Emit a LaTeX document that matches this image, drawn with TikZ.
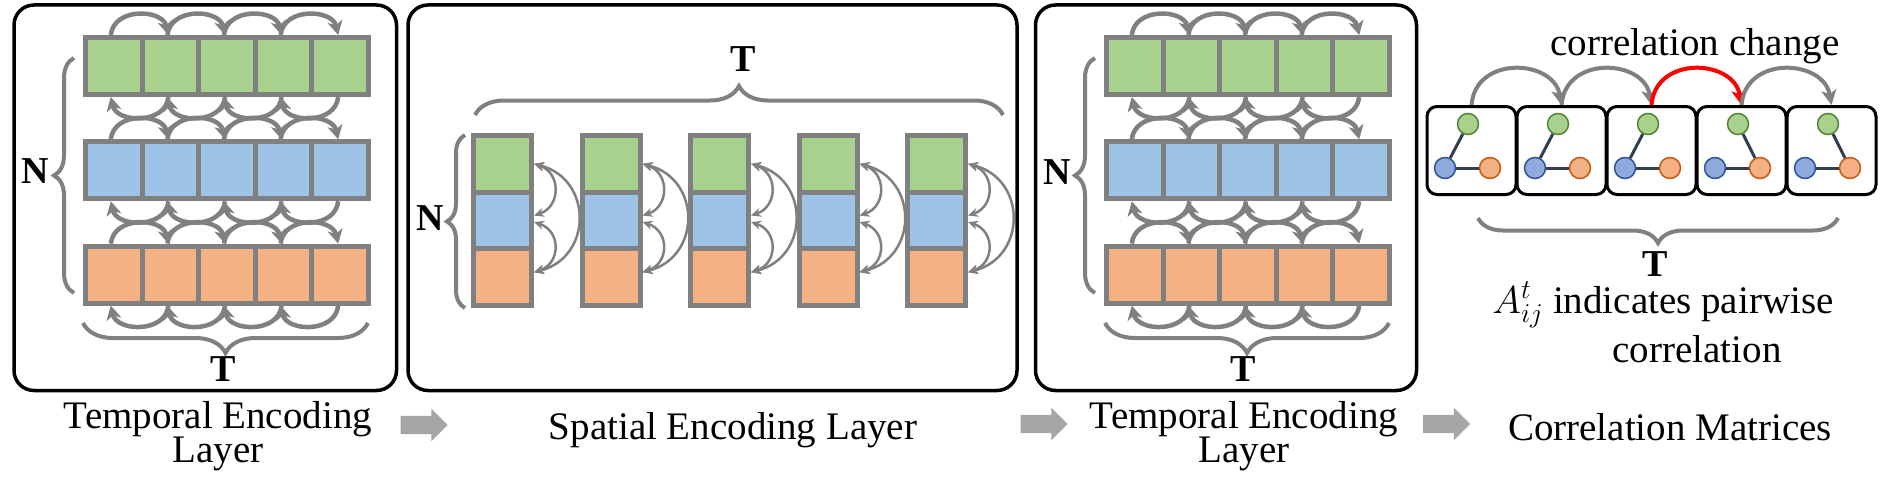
\RequirePackage{fix-cm}
\documentclass[tikz,border=0pt]{standalone}
\usepackage{fontspec}
\setmainfont{Liberation Serif}
\usetikzlibrary{arrows.meta,decorations.pathreplacing,shapes.arrows}
\definecolor{cgreen}{HTML}{A9D18E}
\definecolor{cblue}{HTML}{9DC3E6}
\definecolor{corange}{HTML}{F4B183}
\definecolor{cgray}{HTML}{808080}
\definecolor{bgray}{HTML}{A6A6A6}
\definecolor{nblue}{HTML}{8FAADC}
\definecolor{dgreen}{HTML}{548235}
\definecolor{dblue}{HTML}{2F5597}
\definecolor{dorange}{HTML}{C55A11}
\definecolor{edgec}{HTML}{333F50}
\definecolor{cred}{HTML}{FF0000}
\newcommand\tightlines{\lineskiplimit=-50pt\relax}
\begin{document}
\begin{tikzpicture}[x=1pt,y=-1pt,
 panel/.style={draw=black, line width=3.5pt, rounded corners=20pt},
 cell/.style={draw=cgray, line width=5pt, minimum width=56.6pt, minimum height=57pt, inner sep=0pt},
 scell/.style={draw=cgray, line width=5pt, minimum width=58pt, minimum height=56.7pt, inner sep=0pt},
 tarrow/.style={color=cgray, line width=4.5pt, -{Stealth[length=14pt,width=15pt,inset=4pt]}},
 sarrow/.style={color=cgray, line width=2.5pt, {Stealth[length=10pt,width=9pt]}-{Stealth[length=10pt,width=9pt]}},
 brc/.style={draw=cgray, line width=4pt, decorate, decoration={brace, amplitude=#1pt}},
 lbl/.style={font=\fontsize{39pt}{34pt}\selectfont, inner sep=0pt, anchor=base},
 lbltwo/.style={font={\fontsize{39pt}{34pt}\selectfont\tightlines}, inner sep=0pt, align=center, anchor=north},
 bigb/.style={font=\fontsize{38pt}{38pt}\selectfont\bfseries, inner sep=0pt},
 mbox/.style={draw=black, line width=3pt, rounded corners=10pt, minimum width=89pt, minimum height=88pt, inner sep=0pt},
 mnode/.style={circle, line width=1.5pt, minimum size=21pt, inner sep=0pt},
 medge/.style={draw=edgec, line width=3pt},
 marc/.style={line width=4pt, -{Stealth[length=15pt,width=15pt,inset=4pt]}},
 blockarrow/.style={single arrow, fill=bgray, minimum height=47pt, minimum width=32pt, single arrow head extend=7pt, single arrow head indent=0pt, inner xsep=0pt, inner ysep=9pt},
]
\useasboundingbox (0,0) rectangle (1904,495);

% panels
\draw[panel] (14,5) rectangle (396.5,390.5);
\draw[panel] (408,5) rectangle (1017,390.5);
\draw[panel] (1035.5,5) rectangle (1416.5,390.5);

% temporal encoding cells (panels 1 and 3)
\foreach \p/\dx in {a/0,c/1021}{
  \foreach \r/\fc in {0/cgreen,1/cblue,2/corange}{
    \foreach \c in {0,...,4}{
      \node[cell, fill=\fc] (\p-\r-\c) at ({113.8+56.6*\c+\dx},{66+104.3*\r}) {};
    }
  }
}
\foreach \p in {a,c}{
  \foreach \r in {0,1,2}{
    \foreach \c/\n in {0/1,1/2,2/3,3/4}{
      \draw[tarrow] ([xshift=-3pt]\p-\r-\c.north) .. controls +(3,-28) and +(-6,-26) .. ([xshift=-2pt]\p-\r-\n.north);
      \draw[tarrow] ([xshift=-2pt]\p-\r-\n.south) .. controls +(-3,28) and +(6,26) .. ([xshift=-3pt]\p-\r-\c.south);
    }
  }
}

% braces and labels, panel 1
\draw[brc=20] (74,293) -- (74,58);
\node[bigb] (n1) at (35,171) {N};
\draw[brc=30] (368,323) -- (83,323);
\node[bigb] (t1) at (223,369) {T};
% panel 3
\draw[brc=20] (1095,293) -- (1095,58);
\node[bigb] (n3) at (1057,172) {N};
\draw[brc=30] (1389,323) -- (1105,323);
\node[bigb] (t3) at (1243,369) {T};

% spatial encoding
\foreach \j in {0,...,4}{
  \foreach \r/\fc in {0/cgreen,1/cblue,2/corange}{
    \node[scell, fill=\fc] (s-\j-\r) at ({502.5+108.5*\j},{163.85+56.7*\r}) {};
  }
  \draw[sarrow] (s-\j-0.east) .. controls +(27,9) and +(27,-9) .. ([yshift=5pt]s-\j-1.east);
  \draw[sarrow] ([yshift=-1.5pt]s-\j-1.east) .. controls +(27,9) and +(27,-9) .. ([yshift=5pt]s-\j-2.east);
  \draw[sarrow] (s-\j-0.east) .. controls +(59,15) and +(59,-15) .. ([yshift=5pt]s-\j-2.east);
}
\draw[brc=18] (465,308) -- (465,135);
\node[bigb] (n2) at (430,218) {N};
\draw[brc=29] (475,115) -- (1003,115);
\node[bigb] (t2) at (743,59) {T};

% correlation matrices
\foreach \i in {0,...,4}{
  \node[mbox] (m-\i) at ({1471.5+90*\i},150.5) {};
  \node[mnode, draw=dgreen, fill=cgreen] (mg-\i) at ({1468+90*\i},124) {};
  \node[mnode, draw=dblue, fill=nblue] (mb-\i) at ({1445+90*\i},168) {};
  \node[mnode, draw=dorange, fill=corange] (mo-\i) at ({1490+90*\i},168) {};
  \draw[medge] (mb-\i) -- (mo-\i);
}
\foreach \i in {0,1,2}{ \draw[medge] (mg-\i) -- (mb-\i); }
\foreach \i in {3,4}{ \draw[medge] (mg-\i) -- (mo-\i); }
\foreach \i/\n/\cc in {0/1/cgray,1/2/cgray,2/3/cred,3/4/cgray}{
  \draw[marc, color=\cc] (m-\i.north) .. controls +(4,-50) and +(-8,-46) .. (m-\n.north);
}
\node[lbl] (cc) at (1695,56) {correlation change};
\draw[brc=25] (1838,218) -- (1478,218);
\node[bigb] (t4) at (1655,264) {T};
\node[lbl] (ai) at (1663,313) {$A^t_{ij}$ indicates pairwise};
\node[lbl] (ai2) at (1697,362) {correlation};

% bottom captions
\node[lbltwo] (te1) at (218,401.5) {Temporal Encoding\\Layer};
\node[lbl] (se) at (733,439) {Spatial Encoding Layer};
\node[lbltwo] (te2) at (1244,401.5) {Temporal Encoding\\Layer};
\node[lbl] (cm) at (1670,440) {Correlation Matrices};
\node[blockarrow] (ba1) at (419.5,425) {};
\node[blockarrow] (ba2) at (1039.5,424) {};
\node[blockarrow] (ba3) at (1442,424) {};
\end{tikzpicture}
\end{document}
